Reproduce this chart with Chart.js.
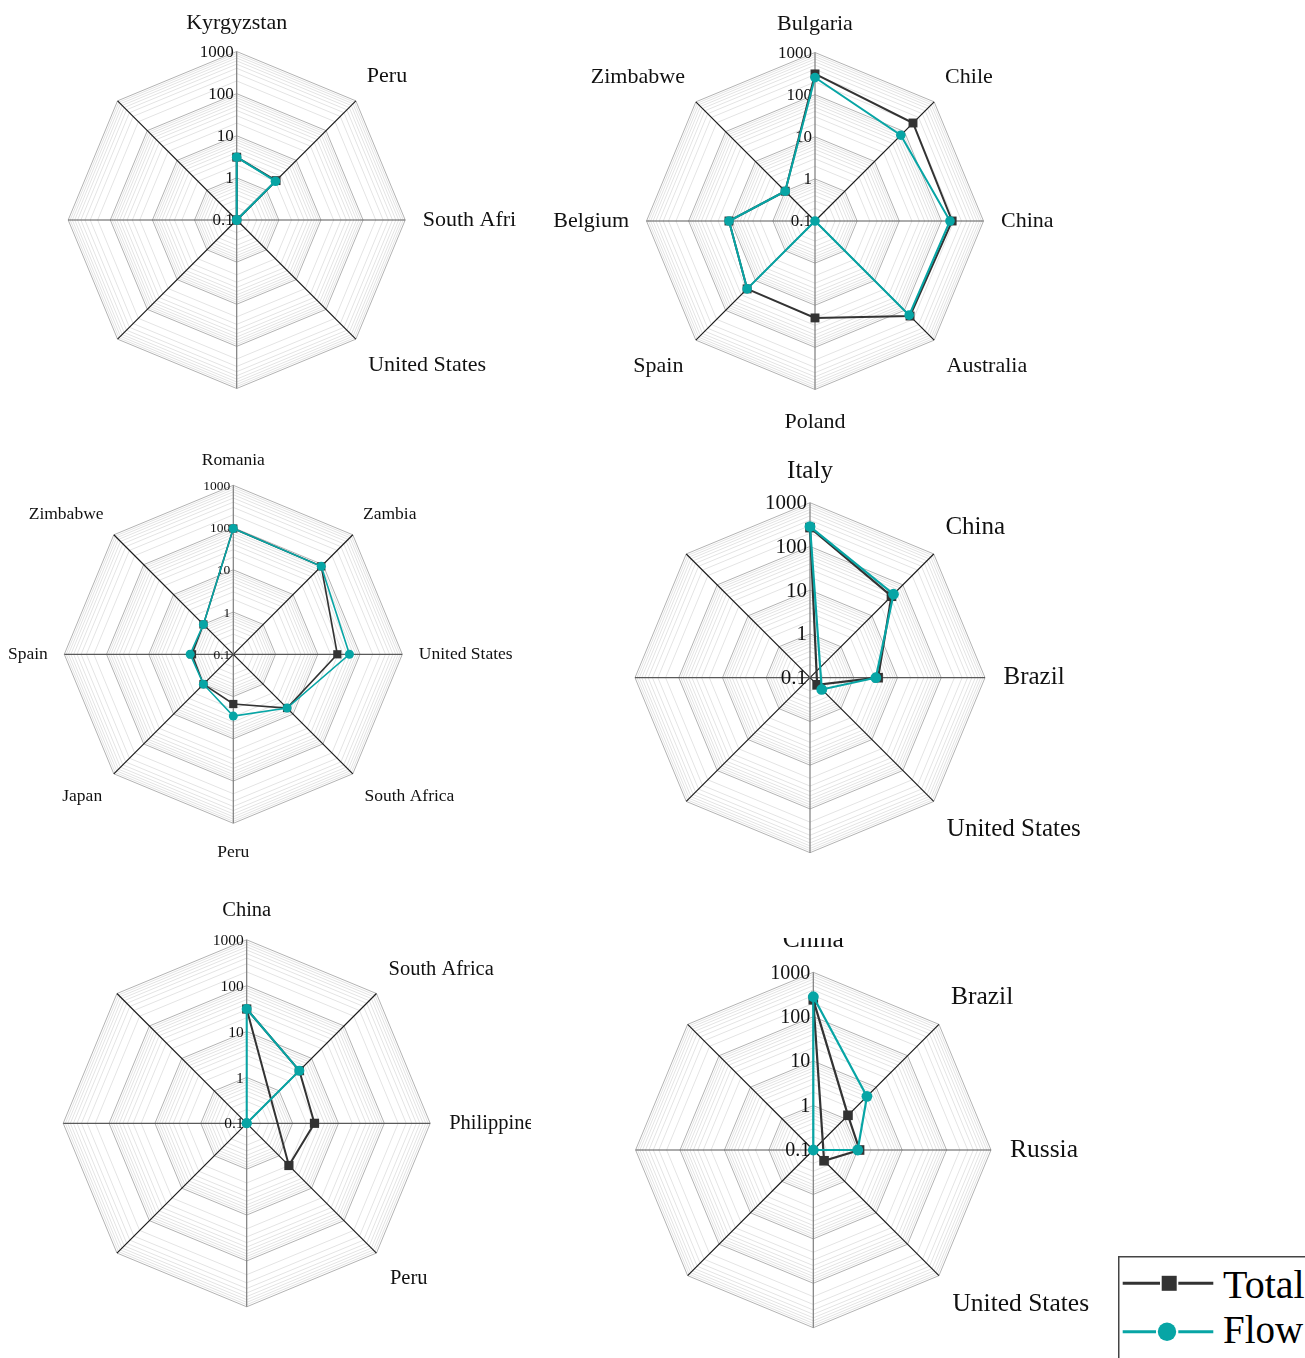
<!DOCTYPE html>
<html>
<head>
<meta charset="utf-8">
<script src="https://cdn.jsdelivr.net/npm/chart.js@4/dist/chart.umd.min.js"></script>
<style>
  html, body { margin: 0; padding: 0; background: #ffffff; }
  body { width: 1305px; height: 1358px; position: relative; overflow: hidden; }
  canvas { position: absolute; }
  #legend { position: absolute; left: 1118px; top: 1256px; }
</style>
</head>
<body>
<canvas id="radarKG" width="517" height="440" style="left:0px;top:0px"></canvas>
<canvas id="radarBG" width="560" height="440" style="left:540px;top:0px"></canvas>
<canvas id="radarRO" width="545" height="440" style="left:0px;top:440px"></canvas>
<canvas id="radarIT" width="560" height="440" style="left:560px;top:445px"></canvas>
<canvas id="radarCN" width="531" height="470" style="left:0px;top:885px"></canvas>
<canvas id="radarCN2" width="560" height="420" style="left:560px;top:938px"></canvas>

<svg id="legend" width="187" height="102" xmlns="http://www.w3.org/2000/svg">
  <rect x="0.75" y="0.75" width="200" height="120" fill="#ffffff" stroke="#444444" stroke-width="1.5"/>
  <line x1="4.7" y1="27.3" x2="42" y2="27.3" stroke="#333333" stroke-width="3"/>
  <line x1="60.3" y1="27.3" x2="95.3" y2="27.3" stroke="#333333" stroke-width="3"/>
  <rect x="43.7" y="19.8" width="15" height="15" fill="#333333"/>
  <text x="105" y="42.3" font-family="Liberation Serif, serif" font-size="40" fill="#000">Total</text>
  <line x1="4.7" y1="75.7" x2="38" y2="75.7" stroke="#07a5a5" stroke-width="3"/>
  <line x1="60.3" y1="75.7" x2="95.3" y2="75.7" stroke="#07a5a5" stroke-width="3"/>
  <circle cx="49" cy="75.7" r="9.2" fill="#07a5a5"/>
  <text x="105" y="87.3" font-family="Liberation Serif, serif" font-size="39" fill="#000">Flow</text>
</svg>

<script>
// ---------- data (values on a log axis, 0.1 – 1000) ----------
const tickValues = [0.1, 1, 10, 100, 1000];
const seriesNames = ['Total', 'Flow'];

const kgLabels = ['Kyrgyzstan', 'Peru', 'South Africa', 'United States', '', '', '', ''];
const kgTotal  = [3.1, 2.1, 0.1, 0.1, null, null, null, null];
const kgFlow   = [3.1, 2.0, 0.1, 0.1, null, null, null, null];

const bgLabels = ['Bulgaria', 'Chile', 'China', 'Australia', 'Poland', 'Spain', 'Belgium', 'Zimbabwe'];
const bgTotal  = [310, 195, 180, 155, 20, 19, 11, 1.0];
const bgFlow   = [255, 76, 160, 145, 0.1, 19, 11, 1.0];

const roLabels = ['Romania', 'Zambia', 'United States', 'South Africa', 'Peru', 'Japan', 'Spain', 'Zimbabwe'];
const roTotal  = [95, 88, 29, 6.3, 1.5, 1.0, 0.95, 1.0];
const roFlow   = [95, 88, 56, 6.3, 2.9, 1.0, 1.05, 1.0];

const itLabels = ['Italy', 'China', 'Brazil', 'United States', '', '', '', ''];
const itTotal  = [270, 43, 3.6, 0.17, null, null, null, null];
const itFlow   = [285, 50, 3.2, 0.24, null, null, null, null];

const cnLabels = ['China', 'South Africa', 'Philippines', 'Peru', '', '', '', ''];
const cnTotal  = [31, 4.2, 3.0, 2.0, null, null, null, null];
const cnFlow   = [31, 4.2, 0.1, 0.1, null, null, null, null];

const cn2Labels = ['China', 'Brazil', 'Russia', 'United States', '', '', '', ''];
const cn2Total  = [240, 1.27, 1.1, 0.22, null, null, null, null];
const cn2Flow   = [282, 5.1, 1.0, 0.1, null, null, null, null];

// ---------- styling ----------
const SERIF = "'Liberation Serif', 'Times New Roman', serif";
const DARK = '#333333';
const TEAL = '#07a5a5';
const GRID_MAJOR = '#b3b3b3';
const GRID_MINOR = '#e4e4e4';
const SPOKES = ['#7d7d7d', '#1c1c1c', '#5a5a5a', '#1c1c1c'];
// small per-spoke tweak of the label gap (top, NE, E, SE, bottom, SW, W, NW)
const LABEL_NUDGE = [-2.5, -2, 0, 0, 2.5, 0, 0, -2];

// page-space centre and radius of each web, keyed by canvas id
const FRAMES = {};

// Radial scale with a logarithmic radius
const RL = Chart.RadialLinearScale || Chart.registry.getScale('radialLinear');
class LogRadialScale extends RL {
  static id = 'logRadial';

  setCenterPoint() {
    const f = FRAMES[this.chart.canvas.id];
    this.xCenter = f.cx - f.x;
    this.yCenter = f.cy - f.y;
    this.drawingArea = f.r;
  }

  buildTicks() {
    const ticks = [];
    const lo = Math.round(Math.log10(this.min));
    const hi = Math.round(Math.log10(this.max));
    for (let e = lo; e <= hi; e++) {
      const base = Math.pow(10, e);
      ticks.push({ value: base, major: true });
      if (e < hi) {
        for (let k = 2; k <= 9; k++) ticks.push({ value: k * base, major: false });
      }
    }
    this.start = this.min;
    this.end = this.max;
    return ticks;
  }

  getDistanceFromCenterForValue(value) {
    if (value === null || value === undefined || !(value > 0)) return NaN;
    const lo = Math.log10(this.min), hi = Math.log10(this.max);
    const f = (Math.log10(value) - lo) / (hi - lo);
    return Math.max(0, f) * this.drawingArea;
  }

  getValueForDistanceFromCenter(distance) {
    const lo = Math.log10(this.min), hi = Math.log10(this.max);
    return Math.pow(10, lo + (hi - lo) * distance / this.drawingArea);
  }

  // tick labels sit just left of the vertical spoke, right-aligned
  drawLabels() {
    const opts = this.options;
    if (!opts.display || !opts.ticks.display) return;
    const ctx = this.ctx;
    ctx.save();
    ctx.translate(this.xCenter, this.yCenter);
    ctx.textAlign = 'right';
    ctx.textBaseline = 'middle';
    this.ticks.forEach((tick, index) => {
      if (!tick.label) return;
      const o = opts.ticks.setContext(this.getContext(index));
      ctx.font = Chart.helpers.toFont(o.font).string;
      ctx.fillStyle = o.color;
      ctx.fillText(tick.label, -3, -this.getDistanceFromCenterForValue(tick.value) + 1);
    });
    ctx.restore();
  }
}
Chart.register(LogRadialScale);

function fmtTick(v) {
  return tickValues.includes(v) ? String(v) : '';
}

// Chart.js adds half the tick-label height to the point-label distance,
// so the requested gap beyond the web is reduced by that amount.
function labelPadding(gap, tickSize) {
  return gap - (tickSize + 4) / 2;
}

function makeRadar(id, frame, labels, total, flow, st) {
  const canvas = document.getElementById(id);
  FRAMES[id] = Object.assign({ x: parseFloat(canvas.style.left), y: parseFloat(canvas.style.top) }, frame);
  const basePad = labelPadding(st.gap, st.tick);
  return new Chart(canvas, {
    type: 'radar',
    data: {
      labels: labels,
      datasets: [
        {
          label: seriesNames[0], data: total,
          borderColor: DARK, backgroundColor: DARK,
          pointBackgroundColor: DARK, pointBorderColor: DARK, pointBorderWidth: 0,
          pointStyle: 'rect', pointRadius: st.sq, borderWidth: st.lw,
          fill: false, spanGaps: true, order: 1, clip: false
        },
        {
          label: seriesNames[1], data: flow,
          borderColor: TEAL, backgroundColor: TEAL,
          pointBackgroundColor: TEAL, pointBorderColor: TEAL, pointBorderWidth: 0,
          pointStyle: 'circle', pointRadius: st.dot, borderWidth: st.lw,
          fill: false, spanGaps: true, order: 0, clip: false
        }
      ]
    },
    options: {
      responsive: false,
      animation: false,
      devicePixelRatio: 1,
      events: [],
      layout: { padding: 0 },
      plugins: { legend: { display: false }, tooltip: { enabled: false } },
      elements: { line: { tension: 0 } },
      scales: {
        r: {
          type: 'logRadial',
          min: tickValues[0],
          max: tickValues[tickValues.length - 1],
          startAngle: 0,
          grid: {
            circular: false,
            color: c => (c.tick && c.tick.major) ? GRID_MAJOR : GRID_MINOR,
            lineWidth: 1
          },
          angleLines: {
            display: true,
            color: c => SPOKES[c.index % 4],
            lineWidth: 1.2
          },
          ticks: {
            display: true,
            autoSkip: false,
            showLabelBackdrop: false,
            color: '#111111',
            font: { family: SERIF, size: st.tick },
            callback: (v) => fmtTick(v)
          },
          pointLabels: {
            display: true,
            color: '#111111',
            padding: c => basePad + (LABEL_NUDGE[c.index] || 0),
            font: { family: SERIF, size: st.label }
          }
        }
      }
    }
  });
}

makeRadar('radarKG',  { cx: 236.7, cy: 220,   r: 168.5 }, kgLabels,  kgTotal,  kgFlow,
  { label: 22, tick: 17, gap: 17.5, sq: 6.3, dot: 4.8, lw: 2 });
makeRadar('radarBG',  { cx: 815,   cy: 221,   r: 168.5 }, bgLabels,  bgTotal,  bgFlow,
  { label: 22, tick: 17, gap: 17.5, sq: 6.3, dot: 4.8, lw: 2 });
makeRadar('radarRO',  { cx: 233.3, cy: 654.3, r: 169 },   roLabels,  roTotal,  roFlow,
  { label: 17.5, tick: 13.5, gap: 16.5, sq: 5.8, dot: 4.5, lw: 1.6 });
makeRadar('radarIT',  { cx: 810,   cy: 677.7, r: 175 },   itLabels,  itTotal,  itFlow,
  { label: 25, tick: 21, gap: 18.5, sq: 6.8, dot: 5.4, lw: 2.2 });
makeRadar('radarCN',  { cx: 246.7, cy: 1123.3, r: 183.5 }, cnLabels, cnTotal,  cnFlow,
  { label: 20.5, tick: 15.5, gap: 19, sq: 6.5, dot: 5, lw: 2 });
makeRadar('radarCN2', { cx: 813.3, cy: 1150,  r: 177.7 }, cn2Labels, cn2Total, cn2Flow,
  { label: 25.5, tick: 20, gap: 19, sq: 6.8, dot: 5.4, lw: 2.2 });
</script>
</body>
</html>
